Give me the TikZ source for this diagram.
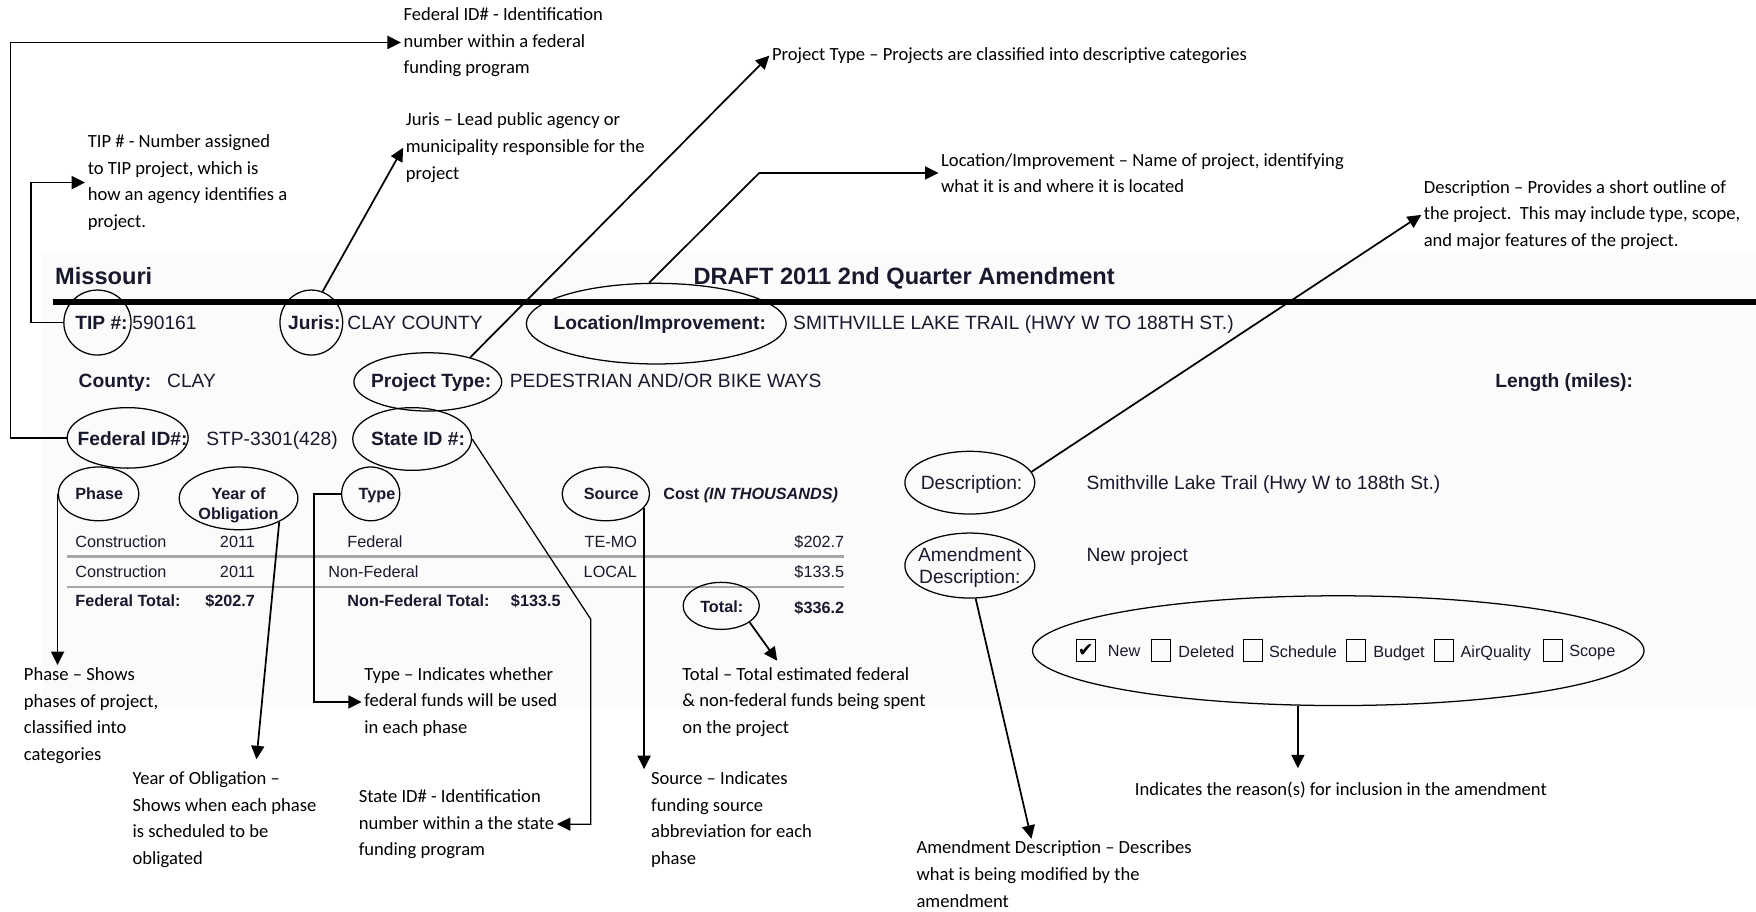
\documentclass[tikz,border=0pt]{standalone}
\usepackage{fontspec}
\usepackage{tikz}
\usepackage{xcolor}
\usetikzlibrary{shapes.geometric,arrows.meta}

\setmainfont{Carlito}
\newfontfamily\formfont{Liberation Sans}
\newfontfamily\symfont{DejaVu Sans}
\definecolor{formink}{RGB}{25,25,45}

\begin{document}
\begin{tikzpicture}[x=0.25mm, y=-0.25mm]

    %--- Styles
    \tikzstyle{note}=[anchor=base west, align=left, inner sep=1.5pt, font=\fontsize{11.8}{16.9}\selectfont]
    \tikzstyle{form}=[anchor=base west, inner sep=0pt, text=formink, font=\formfont\fontsize{12.2}{14}\selectfont]
    \tikzstyle{formb}=[form, font=\formfont\bfseries\fontsize{12.2}{14}\selectfont]
    \tikzstyle{small}=[form, font=\formfont\fontsize{10.3}{12.8}\selectfont]
    \tikzstyle{smallb}=[form, font=\formfont\bfseries\fontsize{10.3}{12.8}\selectfont]
    \tikzstyle{head}=[form, font=\formfont\bfseries\fontsize{15}{18}\selectfont]
    \tikzstyle{ring}=[ellipse, draw, line width=0.8pt, inner sep=0pt]
    \tikzstyle{box}=[draw, line width=0.6pt, minimum width=4.25mm, minimum height=5mm, inner sep=0pt]
    \tikzstyle{link}=[line width=1.1pt, -{Triangle[length=3mm,width=2.9mm]}]

    \useasboundingbox (0,0) rectangle (1568,814);

    %--- Form background
    \fill[black!1.5] (38,226) rectangle (1568,632);

    %--- Form header
    \node[head] (missouri) at (49,254)  {Missouri};
    \node[head] (draft)    at (619,254) {DRAFT 2011 2nd Quarter Amendment};
    \draw[line width=1.3mm] (47,270) -- (1568,270);

    %--- Row: TIP / Juris / Location
    \node[formb] (tipL)   at (67,294)  {TIP \#:};
    \node[form]  (tipV)   at (118,294) {590161};
    \node[formb] (jurisL) at (257,294) {Juris:};
    \node[form]  (jurisV) at (310,294) {CLAY COUNTY};
    \node[formb] (locL)   at (494,294) {Location/Improvement:};
    \node[form]  (locV)   at (708,294) {SMITHVILLE LAKE TRAIL (HWY W TO 188TH ST.)};

    %--- Row: County / Project Type / Length
    \node[formb] (cntyL)  at (70,346)   {County:};
    \node[form]  (cntyV)  at (149,346)  {CLAY};
    \node[formb] (ptypeL) at (331,346)  {Project Type:};
    \node[form]  (ptypeV) at (455,346)  {PEDESTRIAN AND/OR BIKE WAYS};
    \node[formb] (lenL)   at (1335,346) {Length (miles):};

    %--- Row: Federal ID / State ID
    \node[formb] (fedL)   at (69,398)  {Federal ID\#:};
    \node[form]  (fedV)   at (184,398) {STP-3301(428)};
    \node[formb] (stateL) at (331,398) {State ID \#:};

    %--- Cost table
    \node[smallb] (hPhase) at (67,446)  {Phase};
    \node[smallb, anchor=base, align=center] (hYear) at (213,464) {Year of\\Obligation};
    \node[smallb] (hType)  at (320,446) {Type};
    \node[smallb] (hSrc)   at (521,446) {Source};
    \node[smallb] (hCost)  at (592,446) {Cost \textit{(IN THOUSANDS)}};

    \node[small] (r1a) at (67,489) {Construction};
    \node[small, anchor=base] (r1b) at (212,489) {2011};
    \node[small] (r1c) at (310,489) {Federal};
    \node[small, anchor=base east] (r1d) at (569,489) {TE-MO};
    \node[small, anchor=base east] (r1e) at (754,489) {\$202.7};
    \draw[black!35, line width=0.5mm] (60,497) -- (754,497);

    \node[small] (r2a) at (67,516) {Construction};
    \node[small, anchor=base] (r2b) at (212,516) {2011};
    \node[small] (r2c) at (293,516) {Non-Federal};
    \node[small, anchor=base east] (r2d) at (569,516) {LOCAL};
    \node[small, anchor=base east] (r2e) at (754,516) {\$133.5};
    \draw[black!35, line width=0.5mm] (60,524) -- (754,524);

    \node[smallb] (t1) at (67,542)  {Federal Total:};
    \node[smallb] (t2) at (183,542) {\$202.7};
    \node[smallb] (t3) at (310,542) {Non-Federal Total:};
    \node[smallb] (t4) at (456,542) {\$133.5};
    \node[smallb] (t5) at (625,547) {Total:};
    \node[smallb, anchor=base east] (t6) at (754,548) {\$336.2};

    %--- Description block
    \node[form] (descL) at (822,437) {Description:};
    \node[form] (descV) at (970,437) {Smithville Lake Trail (Hwy W to 188th St.)};
    \node[form, anchor=base, align=center, font=\formfont\fontsize{12.2}{14.2}\selectfont] (amendL) at (866,521) {Amendment\\Description:};
    \node[form] (amendV) at (970,501) {New project};

    %--- Check boxes
    \node[box, font=\symfont\fontsize{12}{12}\selectfont] (cbNew) at (969.5,581) {✔};
    \node[box] (cbDel)  at (1036.5,581) {};
    \node[box] (cbSch)  at (1119,581)   {};
    \node[box] (cbBud)  at (1210.5,581) {};
    \node[box] (cbAir)  at (1289,581)   {};
    \node[box] (cbScp)  at (1387,581)   {};
    \node[small] (lNew) at (989,586)  {New};
    \node[small] (lDel) at (1052,587) {Deleted};
    \node[small] (lSch) at (1133,587) {Schedule};
    \node[small] (lBud) at (1226,587) {Budget};
    \node[small] (lAir) at (1304,587) {AirQuality};
    \node[small] (lScp) at (1401,586) {Scope};

    %--- Circled fields
    \node[ring, minimum width=15mm,   minimum height=14.5mm] (tipE)   at (87,288)  {};
    \node[ring, minimum width=14mm,   minimum height=14.5mm] (jurisE) at (278,288) {};
    \node[ring, minimum width=58mm,   minimum height=18mm]   (locE)   at (586,289) {};
    \node[ring, minimum width=33mm,   minimum height=13mm]   (ptypeE) at (382,341) {};
    \node[ring, minimum width=27mm,   minimum height=13.5mm] (fedE)   at (114,391) {};
    \node[ring, minimum width=26.5mm, minimum height=14mm]   (stateE) at (368,392) {};
    \node[ring, minimum width=18mm,   minimum height=12mm]   (phaseE) at (88,441)  {};
    \node[ring, minimum width=26.5mm, minimum height=14mm]   (yearE)  at (213,445) {};
    \node[ring, minimum width=13mm,   minimum height=12mm]   (typeE)  at (331,441) {};
    \node[ring, minimum width=19.5mm, minimum height=12mm]   (srcE)   at (541,441) {};
    \node[ring, minimum width=17mm,   minimum height=10.5mm] (totalE) at (644,541) {};
    \node[ring, minimum width=29mm,   minimum height=14mm]   (descE)  at (866,431) {};
    \node[ring, minimum width=29mm,   minimum height=14.5mm] (amendE) at (866,505) {};
    \node[ring, minimum width=136.5mm, minimum height=24.5mm] (bigE)  at (1195,581) {};

    %--- Notes above the form (placed at the baseline of their last line)
    \node[note] (fedN)   at (358,66)  {Federal ID\# - Identification\\number within a federal\\funding program};
    \node[note] (jurisN) at (360,160) {Juris – Lead public agency or\\municipality responsible for the\\project};
    \node[note] (tipN)   at (76,203)  {TIP \# - Number assigned\\to TIP project, which is\\how an agency identifies a\\project.};
    \node[note] (ptypeN) at (687,54)  {Project Type – Projects are classified into descriptive categories};
    \node[note] (locN)   at (838,172) {Location/Improvement – Name of project, identifying\\what it is and where it is located};
    \node[note] (descN)  at (1269,220) {Description – Provides a short outline of\\the project.\ \ This may include type, scope,\\and major features of the project.};

    %--- Notes below the form
    \node[note] (phaseN)  at (19,679)   {Phase – Shows\\phases of project,\\classified into\\categories};
    \node[note] (yearN)   at (116,772)  {Year of Obligation –\\Shows when each phase\\is scheduled to be\\obligated};
    \node[note] (typeN)   at (323,655)  {Type – Indicates whether\\federal funds will be used\\in each phase};
    \node[note] (stateN)  at (318,764)  {State ID\# - Identification\\number within a the state\\funding program};
    \node[note] (totalN)  at (607,655)  {Total – Total estimated federal\\\& non-federal funds being spent\\on the project};
    \node[note] (srcN)    at (579,772)  {Source – Indicates\\funding source\\abbreviation for each\\phase};
    \node[note] (reasonN) at (1011,710) {Indicates the reason(s) for inclusion in the amendment};
    \node[note] (amendN)  at (816,810)  {Amendment Description – Describes\\what is being modified by the\\amendment};

    %--- Free arrow ends
    \coordinate (locBend)   at (678,0);
    \coordinate (yearTip)   at (229,678);
    \coordinate (totalTip)  at (694,590);
    \coordinate (amendTip)  at (921,749);
    \coordinate (reasonTop) at (1159,630);
    \coordinate (reasonTip) at (1159,686);

    %--- Connectors
    \draw[link] (fedE.west) -- ++(-50,0) |- (fedN.west);
    \draw[link] (tipE.west) -- ++(-29,0) |- (tipN.west);
    \draw[link] (jurisE.70) -- (jurisN.west);
    \draw[link] (ptypeE.30) -- (ptypeN.west);
    \draw[link] (locE.100) -- (locN.west -| locBend) -- (locN.west);
    \draw[link] (descE.10) -- (descN.west);
    \draw[link] (phaseE.west) -- (phaseE.west |- phaseN.north);
    \draw[link] (yearE.-30) -- (yearTip);
    \draw[link] (typeE.west) -- ++(-24,0) |- (typeN.west);
    \draw[link, line width=0.8pt] (stateE.east) -- ++(106,161) |- (stateN.east);
    \draw[link] (srcE.-20) -- (srcE.-20 |- srcN.north);
    \draw[link] (totalE.-30) -- (totalTip);
    \draw[link] (amendE.-80) -- (amendTip);
    \draw[link] (reasonTop) -- (reasonTip);

\end{tikzpicture}
\end{document}
